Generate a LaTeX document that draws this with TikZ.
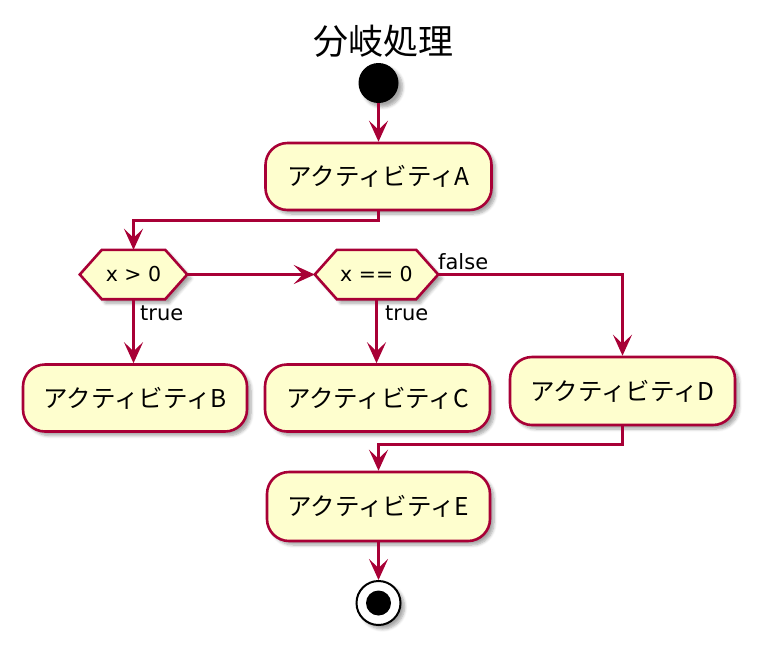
\documentclass[tikz,border=0pt]{standalone}
\usepackage{fontspec}
\newfontfamily\jp{Noto Sans CJK JP}
\newfontfamily\lat{DejaVu Sans}
\usetikzlibrary{arrows.meta,shadows.blur}
\definecolor{pred}{HTML}{A80036}
\definecolor{pfill}{HTML}{FEFECE}
\pgfdeclarelayer{background}
\pgfsetlayers{background,main}
\begin{document}
\begin{tikzpicture}[x=1pt,y=-1pt,
 shad/.style={blur shadow={shadow xshift=4pt, shadow yshift=-4pt, shadow blur steps=6, shadow opacity=35, shadow blur radius=3pt}},
 act/.style={draw=pred, fill=pfill, line width=2.6pt, rounded corners=22pt, minimum height=67pt, inner sep=0pt, font=\jp\fontsize{24.5}{29}\selectfont, shad},
 hexbox/.style={minimum width=107pt, minimum height=49pt, inner sep=0pt, font=\lat\fontsize{20.5}{24}\selectfont},
 hexdraw/.style={draw=pred, fill=pfill, line width=2.6pt, line join=miter, shad},
 lbl/.style={font=\lat\fontsize{21}{24}\selectfont, inner sep=0pt},
 arr/.style={draw=pred, line width=2.6pt, -{Stealth[length=21pt,width=19pt,inset=9pt]}}
]
\useasboundingbox (0,0) rectangle (768,657);
\node[font=\jp\fontsize{35}{40}\selectfont, inner sep=0pt] (title) at (383,41) {分岐処理};
\node[circle, fill=black, minimum size=40pt, inner sep=0pt, shad] (start) at (378.5,83) {};
\node[act, minimum width=226pt] (A) at (378.5,176.5) {アクティビティA};
\node[hexbox] (d1) at (133.5,274.5) {x > 0};
\node[hexbox, minimum width=123pt] (d2) at (376.5,274.5) {x == 0};
\node[act, minimum width=224pt] (B) at (135,398) {アクティビティB};
\node[act, minimum width=225pt] (C) at (377.5,398) {アクティビティC};
\node[act, minimum width=225pt, minimum height=68pt] (D) at (622.5,391) {アクティビティD};
\node[act, minimum width=223pt, minimum height=69pt] (E) at (378.5,506.5) {アクティビティE};
\node[circle, draw=black, line width=2pt, fill=white, minimum size=44pt, inner sep=0pt, shad] (end) at (378.5,603) {};
\node[circle, fill=black, minimum size=25pt, inner sep=0pt] (endin) at (end) {};
\begin{pgfonlayer}{background}
\path[hexdraw] (d1.west) -- ([xshift=22pt]d1.north west) -- ([xshift=-22pt]d1.north east) -- (d1.east) -- ([xshift=-22pt]d1.south east) -- ([xshift=22pt]d1.south west) -- cycle;
\path[hexdraw] (d2.west) -- ([xshift=22pt]d2.north west) -- ([xshift=-22pt]d2.north east) -- (d2.east) -- ([xshift=-22pt]d2.south east) -- ([xshift=22pt]d2.south west) -- cycle;
\end{pgfonlayer}
\node[lbl, anchor=west] (t1) at (140,313) {true};
\node[lbl, anchor=west] (t2) at (385,313) {true};
\node[lbl, anchor=west] (f2) at (438,262) {false};
\draw[arr] (start) -- (A);
\draw[arr] (A.south) -- ++(0,9) -| (d1.north);
\draw[arr] (d1.east) -- (d2.west);
\draw[arr] (d1.south) -- (d1.south |- B.north);
\draw[arr] (d2.south) -- (d2.south |- C.north);
\draw[arr] (d2.east) -| (D.north);
\draw[arr] (D.south) -- ++(0,18) -| (E.north);
\draw[arr] (E) -- (end);
\end{tikzpicture}
\end{document}
